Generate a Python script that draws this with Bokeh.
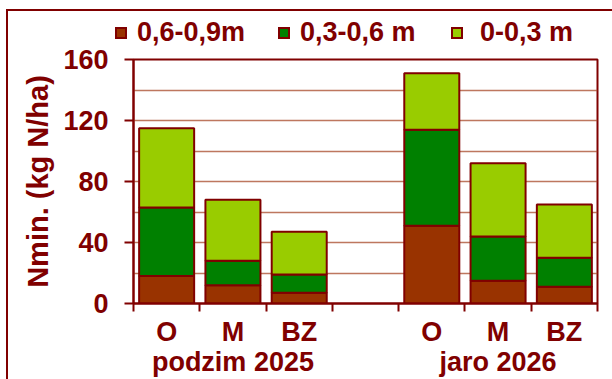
from bokeh.plotting import figure
from bokeh.layouts import column
from bokeh.models import Range1d, FixedTicker, LinearAxis, ColumnDataSource, Div
from bokeh.embed import file_html
from bokeh.resources import INLINE

# Nmin content per soil layer (kg N/ha), sites O, M, BZ in autumn 2025 and spring 2026
groups = ["podzim 2025", "jaro 2026"]
sites = ["O", "M", "BZ"]
layer_names = ["0,6-0,9m", "0,3-0,6 m", "0-0,3 m"]
layer_060_090 = [18, 12, 7, 51, 15, 11]
layer_030_060 = [45, 16, 12, 63, 29, 19]
layer_000_030 = [52, 40, 28, 37, 48, 35]
y_ticks = [0, 40, 80, 120, 160]

INK = "#800000"
FONT = "Liberation Sans"
FILLS = ["#993300", "#008000", "#99cc00"]
FS = "27px"
W, H = 612, 379
HEAD_H, OVERLAP = 57, 17

# each group takes one slot per site, with an empty slot between groups
slots_per_group = len(sites) + 1
xs = [1 + g * slots_per_group + s for g in range(len(groups)) for s in range(len(sites))]
n_slots = len(groups) * slots_per_group - 1
group_centers = [1 + g * slots_per_group + (len(sites) - 1) / 2 for g in range(len(groups))]

src = ColumnDataSource(dict(x=xs, l3=layer_060_090, l2=layer_030_060, l1=layer_000_030))

p = figure(width=W, height=H - HEAD_H + OVERLAP,
           x_range=Range1d(0.5, n_slots + 0.5), y_range=Range1d(0, 160),
           output_backend="svg", toolbar_location=None,
           min_border_left=133, min_border_right=15,
           min_border_top=2 + OVERLAP, min_border_bottom=73)
p.background_fill_color = "white"
p.border_fill_color = None
p.outline_line_color = INK
p.outline_line_width = 2
p.styles = {"margin-top": f"-{OVERLAP}px"}

# horizontal grid every 20 units
p.xgrid.visible = False
p.ygrid.ticker = FixedTicker(ticks=list(range(20, 161, 20)))
p.ygrid.grid_line_color = "#a84a2a"
p.ygrid.grid_line_alpha = 0.75
p.ygrid.grid_line_width = 1.3

p.vbar_stack(["l3", "l2", "l1"], x="x", width=0.83, source=src,
             fill_color=FILLS, line_color=INK, line_width=2)

# y axis
yax = p.yaxis[0]
yax.ticker = FixedTicker(ticks=y_ticks)
yax.axis_line_color = INK
yax.axis_line_width = 2
yax.major_tick_line_color = INK
yax.major_tick_line_width = 2
yax.major_tick_out = 9
yax.major_tick_in = 0
yax.minor_tick_line_color = None
yax.major_label_standoff = 16
yax.major_label_text_font = FONT
yax.major_label_text_font_style = "bold"
yax.major_label_text_font_size = FS
yax.major_label_text_color = INK
yax.axis_label = "Nmin. (kg N/ha)"
yax.axis_label_text_font = FONT
yax.axis_label_text_font_style = "bold"
yax.axis_label_text_font_size = "29px"
yax.axis_label_text_color = INK
yax.axis_label_standoff = 6

# x axis: site labels at bar centres, ticks on slot boundaries
xax = p.xaxis[0]
xax.ticker = FixedTicker(ticks=xs, minor_ticks=[b + 0.5 for b in range(n_slots + 1)])
xax.major_label_overrides = {x: sites[i % len(sites)] for i, x in enumerate(xs)}
xax.axis_line_color = INK
xax.axis_line_width = 2
xax.major_tick_line_color = None
xax.major_tick_out = 8
xax.major_tick_in = 0
xax.minor_tick_line_color = INK
xax.minor_tick_line_width = 2
xax.minor_tick_out = 8
xax.minor_tick_in = 0
xax.major_label_standoff = 5
xax.major_label_text_font = FONT
xax.major_label_text_font_style = "bold"
xax.major_label_text_font_size = FS
xax.major_label_text_color = INK

# second row: season labels
gax = LinearAxis(ticker=FixedTicker(ticks=group_centers),
                 major_label_overrides={c: g for c, g in zip(group_centers, groups)})
gax.axis_line_color = None
gax.major_tick_line_color = None
gax.minor_tick_line_color = None
gax.major_tick_out = 0
gax.major_tick_in = 0
gax.major_label_standoff = -3
gax.major_label_text_font = FONT
gax.major_label_text_font_style = "bold"
gax.major_label_text_font_size = FS
gax.major_label_text_color = INK
p.add_layout(gax, "below")

# legend strip above the plot: swatch + label per soil layer
swatch_left = [115, 278, 451]
label_left = [137, 300, 480]
entries = "".join(
    f'<span style="position:absolute;left:{sx}px;top:27px;width:12px;height:12px;'
    f'background:{c};border:2px solid {INK}"></span>'
    f'<span style="position:absolute;left:{tx}px;top:17px">{n}</span>'
    for n, c, sx, tx in zip(layer_names, FILLS, swatch_left, label_left))
head = Div(text=(f'<div style="position:relative;width:{W}px;height:{HEAD_H}px;'
                 f"font-family:'{FONT}';font-weight:bold;font-size:{FS};line-height:31px;"
                 f'color:{INK};white-space:nowrap">{entries}</div>'),
           width=W, height=HEAD_H, margin=0)

page = column(head, p, spacing=0, styles={
    "background": ("linear-gradient(#800000, #800000) 6px 9px / 2px 370px no-repeat, "
                   "linear-gradient(#800000, #800000) 6px 9px / 606px 2px no-repeat, white"),
})

open("out.html", "w").write(file_html(page, INLINE))
